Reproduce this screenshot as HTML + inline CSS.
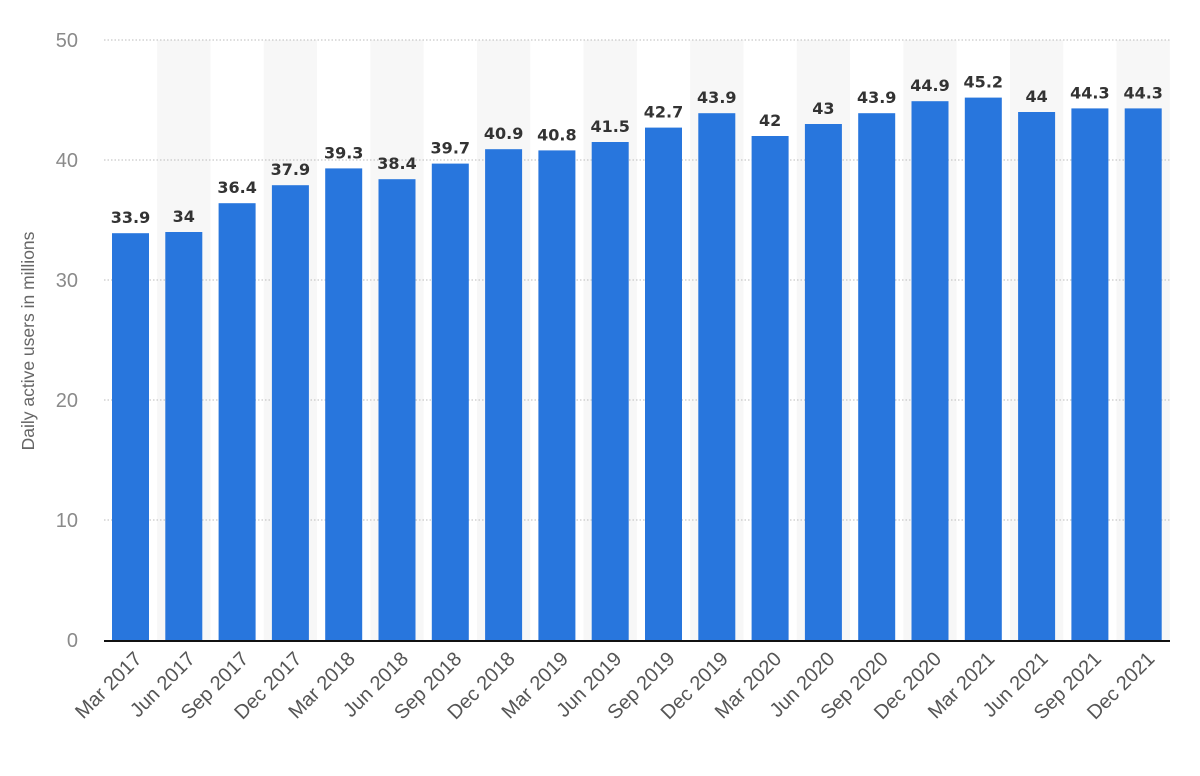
<!DOCTYPE html>
<html><head><meta charset="utf-8"><style>body{margin:0;background:#fff}</style></head><body>
<svg width="1200" height="771" xmlns="http://www.w3.org/2000/svg" font-family="Liberation Sans, sans-serif">
<g fill="#f7f7f7">
<rect x="157.15" y="40" width="53.3" height="601"/><rect x="263.75" y="40" width="53.3" height="601"/><rect x="370.35" y="40" width="53.3" height="601"/><rect x="476.95" y="40" width="53.3" height="601"/><rect x="583.55" y="40" width="53.3" height="601"/><rect x="690.15" y="40" width="53.3" height="601"/><rect x="796.75" y="40" width="53.3" height="601"/><rect x="903.35" y="40" width="53.3" height="601"/><rect x="1009.95" y="40" width="53.3" height="601"/><rect x="1116.55" y="40" width="53.3" height="601"/>
</g>
<g stroke="#bbb" stroke-dasharray="1.5,2">
<line x1="104" x2="1170" y1="40" y2="40"/><line x1="104" x2="1170" y1="160" y2="160"/><line x1="104" x2="1170" y1="280" y2="280"/><line x1="104" x2="1170" y1="400" y2="400"/><line x1="104" x2="1170" y1="520" y2="520"/>
</g>
<g font-size="20" fill="#8a8a8a" text-anchor="end">
<text x="78" y="47">50</text><text x="78" y="167">40</text><text x="78" y="287">30</text><text x="78" y="407">20</text><text x="78" y="527">10</text><text x="78" y="647">0</text>
</g>
<g fill="#2876dd">
<rect x="112" y="233.2" width="37" height="407.8"/>
<rect x="165.3" y="232" width="37" height="409"/>
<rect x="218.6" y="203.2" width="37" height="437.8"/>
<rect x="271.9" y="185.2" width="37" height="455.8"/>
<rect x="325.2" y="168.4" width="37" height="472.6"/>
<rect x="378.5" y="179.2" width="37" height="461.8"/>
<rect x="431.8" y="163.6" width="37" height="477.4"/>
<rect x="485.1" y="149.2" width="37" height="491.8"/>
<rect x="538.4" y="150.4" width="37" height="490.6"/>
<rect x="591.7" y="142" width="37" height="499"/>
<rect x="645" y="127.6" width="37" height="513.4"/>
<rect x="698.3" y="113.2" width="37" height="527.8"/>
<rect x="751.6" y="136" width="37" height="505"/>
<rect x="804.9" y="124" width="37" height="517"/>
<rect x="858.2" y="113.2" width="37" height="527.8"/>
<rect x="911.5" y="101.2" width="37" height="539.8"/>
<rect x="964.8" y="97.6" width="37" height="543.4"/>
<rect x="1018.1" y="112" width="37" height="529"/>
<rect x="1071.4" y="108.4" width="37" height="532.6"/>
<rect x="1124.7" y="108.4" width="37" height="532.6"/>
</g>
<g font-family="DejaVu Sans, sans-serif" font-size="16" font-weight="bold" fill="#333" text-anchor="middle">
<text x="130.5" y="223.2">33.9</text><text x="183.8" y="222">34</text><text x="237.1" y="193.2">36.4</text><text x="290.4" y="175.2">37.9</text><text x="343.7" y="158.4">39.3</text><text x="397" y="169.2">38.4</text><text x="450.3" y="153.6">39.7</text><text x="503.6" y="139.2">40.9</text><text x="556.9" y="140.4">40.8</text><text x="610.2" y="132">41.5</text><text x="663.5" y="117.6">42.7</text><text x="716.8" y="103.2">43.9</text><text x="770.1" y="126">42</text><text x="823.4" y="114">43</text><text x="876.7" y="103.2">43.9</text><text x="930" y="91.2">44.9</text><text x="983.3" y="87.6">45.2</text><text x="1036.6" y="102">44</text><text x="1089.9" y="98.4">44.3</text><text x="1143.2" y="98.4">44.3</text>
</g>
<line x1="104" x2="1170" y1="641" y2="641" stroke="#111" stroke-width="2"/>
<g font-size="20" fill="#555" text-anchor="end">
<text transform="translate(143,660) rotate(-45)">Mar 2017</text>
<text transform="translate(196.3,660) rotate(-45)">Jun 2017</text>
<text transform="translate(249.6,660) rotate(-45)">Sep 2017</text>
<text transform="translate(302.9,660) rotate(-45)">Dec 2017</text>
<text transform="translate(356.2,660) rotate(-45)">Mar 2018</text>
<text transform="translate(409.5,660) rotate(-45)">Jun 2018</text>
<text transform="translate(462.8,660) rotate(-45)">Sep 2018</text>
<text transform="translate(516.1,660) rotate(-45)">Dec 2018</text>
<text transform="translate(569.4,660) rotate(-45)">Mar 2019</text>
<text transform="translate(622.7,660) rotate(-45)">Jun 2019</text>
<text transform="translate(676,660) rotate(-45)">Sep 2019</text>
<text transform="translate(729.3,660) rotate(-45)">Dec 2019</text>
<text transform="translate(782.6,660) rotate(-45)">Mar 2020</text>
<text transform="translate(835.9,660) rotate(-45)">Jun 2020</text>
<text transform="translate(889.2,660) rotate(-45)">Sep 2020</text>
<text transform="translate(942.5,660) rotate(-45)">Dec 2020</text>
<text transform="translate(995.8,660) rotate(-45)">Mar 2021</text>
<text transform="translate(1049.1,660) rotate(-45)">Jun 2021</text>
<text transform="translate(1102.4,660) rotate(-45)">Sep 2021</text>
<text transform="translate(1155.7,660) rotate(-45)">Dec 2021</text>
</g>
<text transform="translate(34,341) rotate(-90)" text-anchor="middle" font-size="17.5" fill="#666">Daily active users in millions</text>
</svg></body></html>
